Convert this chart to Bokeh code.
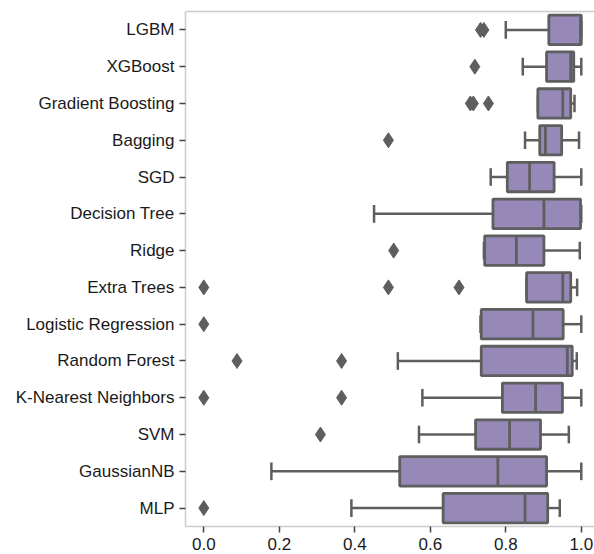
from bokeh.plotting import figure
from bokeh.models import Range1d, FixedTicker, LinearAxis, ColumnDataSource, PrintfTickFormatter
from bokeh.embed import file_html
from bokeh.resources import INLINE

models = ["LGBM", "XGBoost", "Gradient Boosting", "Bagging", "SGD", "Decision Tree",
          "Ridge", "Extra Trees", "Logistic Regression", "Random Forest",
          "K-Nearest Neighbors", "SVM", "GaussianNB", "MLP"]
whisker_low = [0.800, 0.845, 0.885, 0.851, 0.760, 0.451, 0.742, 0.855, 0.733, 0.514, 0.579, 0.570, 0.179, 0.391]
q1 =          [0.914, 0.908, 0.885, 0.890, 0.804, 0.766, 0.744, 0.855, 0.735, 0.735, 0.791, 0.720, 0.519, 0.634]
median =      [0.998, 0.972, 0.951, 0.905, 0.863, 0.901, 0.828, 0.951, 0.872, 0.963, 0.879, 0.810, 0.779, 0.851]
q3 =          [1.000, 0.980, 0.972, 0.948, 0.928, 0.998, 0.901, 0.972, 0.952, 0.976, 0.950, 0.892, 0.908, 0.911]
whisker_high = [1.000, 1.000, 0.982, 0.994, 1.000, 1.000, 0.996, 0.989, 1.000, 0.988, 1.000, 0.967, 1.000, 0.943]
outliers = [
    [0.733, 0.742],
    [0.718],
    [0.706, 0.714, 0.754],
    [0.489],
    [],
    [],
    [0.503],
    [0.0, 0.489, 0.676],
    [0.0],
    [0.088, 0.365],
    [0.0, 0.365],
    [0.309],
    [],
    [0.0],
]
x_ticks = [0.0, 0.2, 0.4, 0.6, 0.8, 1.0]

FILL = "#9689b8"
EDGE = "#5e5e5e"
FONT = "Liberation Sans"

ys = list(range(len(models)))

p = figure(width=594, height=554,
           x_range=Range1d(-0.0485, 1.035), y_range=Range1d(13.5, -0.5),
           output_backend="svg", toolbar_location=None,
           min_border_left=185, min_border_right=0, min_border_top=11, min_border_bottom=28)
p.outline_line_color = None
p.xgrid.visible = False
p.ygrid.visible = False
p.background_fill_color = "white"
p.border_fill_color = "white"

src = ColumnDataSource(dict(
    y=ys, lo=whisker_low, q1=q1, med=median, q3=q3, hi=whisker_high,
    cap_top=[y - 0.24 for y in ys], cap_bot=[y + 0.24 for y in ys],
    box_top=[y - 0.4 for y in ys], box_bot=[y + 0.4 for y in ys],
))

# whiskers
p.segment(x0="lo", y0="y", x1="q1", y1="y", source=src, line_color=EDGE, line_width=2.5)
p.segment(x0="q3", y0="y", x1="hi", y1="y", source=src, line_color=EDGE, line_width=2.5)
# caps
p.segment(x0="lo", y0="cap_top", x1="lo", y1="cap_bot", source=src, line_color=EDGE, line_width=2.5)
p.segment(x0="hi", y0="cap_top", x1="hi", y1="cap_bot", source=src, line_color=EDGE, line_width=2.5)
# boxes
p.hbar(y="y", left="q1", right="q3", height=0.8, source=src,
       fill_color=FILL, line_color=EDGE, line_width=2.8)
# medians
p.segment(x0="med", y0="box_top", x1="med", y1="box_bot", source=src, line_color=EDGE, line_width=2.8)

# outliers
ox, oy = [], []
for i, vals in enumerate(outliers):
    for v in vals:
        ox.append(v)
        oy.append(i)
p.scatter(ox, oy, marker="diamond", size=15, fill_color=EDGE, line_color=EDGE)

# axes
p.xaxis.ticker = FixedTicker(ticks=x_ticks)
p.xaxis.formatter = PrintfTickFormatter(format="%.1f")
p.yaxis.ticker = FixedTicker(ticks=ys)
p.yaxis.major_label_overrides = {i: m for i, m in enumerate(models)}
for ax in (p.xaxis[0], p.yaxis[0]):
    ax.axis_line_color = "#cccccc"
    ax.axis_line_width = 1.5
    ax.major_tick_line_color = "#444444"
    ax.major_tick_line_width = 1.5
    ax.major_tick_in = 0
    ax.major_tick_out = 6
    ax.minor_tick_line_color = None
    ax.major_label_text_font = FONT
    ax.major_label_text_font_size = "17px"
    ax.major_label_text_color = "#1a1a1a"
    ax.major_label_standoff = 5

top = LinearAxis(axis_line_color="#cccccc", axis_line_width=1.5,
                 ticker=FixedTicker(ticks=[]),
                 major_tick_line_color=None, minor_tick_line_color=None,
                 major_tick_out=0, major_tick_in=0,
                 major_label_standoff=0)
p.add_layout(top, "above")

open("out.html", "w").write(file_html(p, INLINE))
